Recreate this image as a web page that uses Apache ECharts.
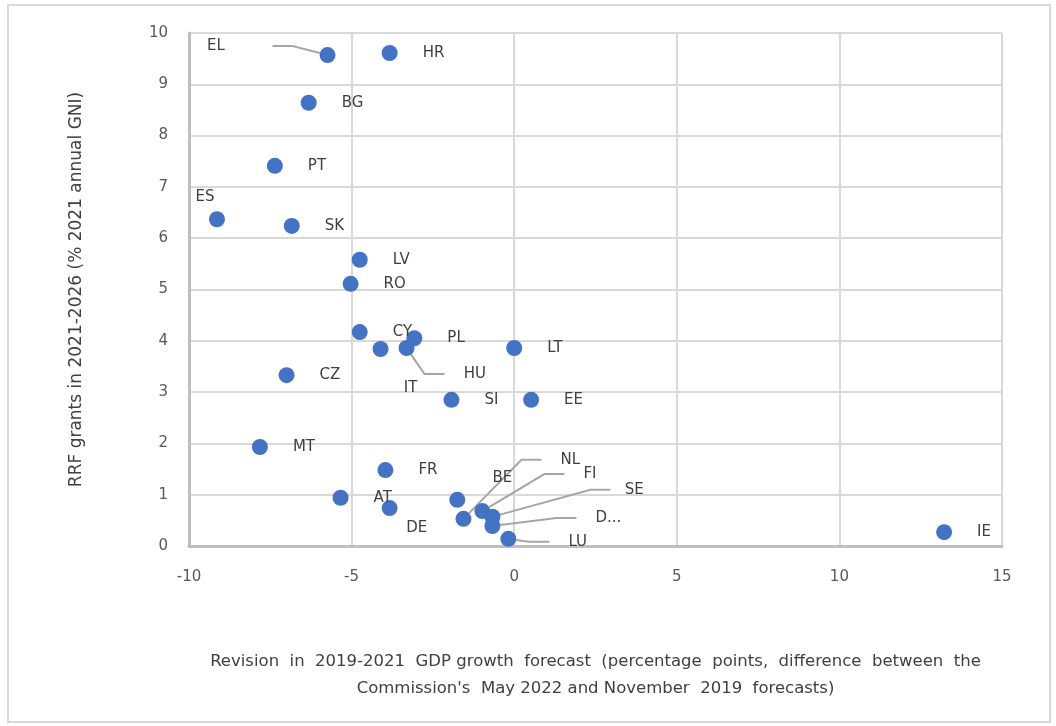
<!DOCTYPE html>
<html>
<head>
<meta charset="utf-8">
<script src="https://cdn.jsdelivr.net/npm/echarts@6/dist/echarts.min.js"></script>
<style>
  html, body { margin: 0; padding: 0; background: #fff; }
  #chart { width: 1056px; height: 726px; }
</style>
</head>
<body>
<div id="chart"></div>
<script>
// country codes as shown on the chart
const countries = ['EL', 'HR', 'BG', 'PT', 'ES', 'SK', 'LV', 'RO', 'CY', 'IT', 'HU', 'PL', 'LT',
  'CZ', 'SI', 'EE', 'MT', 'FR', 'AT', 'DE', 'BE', 'NL', 'FI', 'SE', 'D...', 'LU', 'IE']
// revision in 2019-2021 GDP growth forecast (pp)
const gdpRevision = [-5.74, -3.83, -6.32, -7.36, -9.14, -6.84, -4.75, -5.03, -4.75, -4.11, -3.31, -3.07, 0.0,
  -7.0, -1.93, 0.52, -7.82, -3.96, -5.34, -3.83, -1.75, -1.56, -0.98, -0.67, -0.67, -0.18, 13.22]
// RRF grants 2021-2026 (% 2021 annual GNI)
const rrfGrants = [9.57, 9.61, 8.64, 7.41, 6.37, 6.24, 5.58, 5.11, 4.17, 3.84, 3.86, 4.05, 3.86,
  3.33, 2.85, 2.85, 1.93, 1.48, 0.94, 0.74, 0.90, 0.53, 0.68, 0.57, 0.39, 0.14, 0.27]

const xTicks = { min: -10, max: 15, interval: 5 }
const yTicks = { min: 0, max: 10, interval: 1 }

// labels that Excel moved away from their point (pixel offsets; gap = spaces before the leader line)
const movedLabels = {
  'EL': { dx: -55, dy: -9, align: 'right', gap: 10 },
  'ES': { dx: -12, dy: -22, align: 'center' },
  'IT': { dx: 30, dy: 39, align: 'center' },
  'HU': { dx: 38, dy: 26, align: 'left', gap: 4 },
  'DE': { dx: 27, dy: 20, align: 'center' },
  'BE': { dx: 45, dy: -22, align: 'center' },
  'NL': { dx: 78, dy: -59, align: 'left', gap: 4 },
  'FI': { dx: 82, dy: -37, align: 'left', gap: 4 },
  'SE': { dx: 118, dy: -27, align: 'left', gap: 3 },
  'D...': { dx: 84, dy: -8, align: 'left', gap: 4 },
  'LU': { dx: 41, dy: 3, align: 'left', gap: 4 },
}

const points = countries.map((c, i) => {
  const item = { name: c, value: [gdpRevision[i], rrfGrants[i]] }
  const m = movedLabels[c]
  if (m && m.gap) {
    const sp = ' '.repeat(m.gap)
    item.label = { formatter: m.align === 'right' ? c + sp : sp + c }
    item.labelLine = { show: true }
  }
  return item
})

const chart = echarts.init(document.getElementById('chart'))
chart.setOption({
  animation: false,
  textStyle: { fontFamily: 'DejaVu Sans' },
  graphic: [{
    type: 'rect',
    shape: { x: 8, y: 5, width: 1042, height: 717 },
    style: { fill: 'none', stroke: '#d9d9d9', lineWidth: 2 },
  }],
  grid: { left: 189, right: 54, top: 33, bottom: 180 },
  xAxis: {
    type: 'value',
    min: xTicks.min,
    max: xTicks.max,
    interval: xTicks.interval,
    name: 'Revision  in  2019-2021  GDP growth  forecast  (percentage  points,  difference  between  the\nCommission\'s  May 2022 and November  2019  forecasts)',
    nameLocation: 'middle',
    nameGap: 102,
    nameTextStyle: { fontSize: 16.5, color: '#404040', lineHeight: 27 },
    axisLine: { show: true, onZero: false, lineStyle: { color: '#bfbfbf', width: 3 } },
    axisTick: { show: false },
    axisLabel: { fontSize: 15, color: '#595959', margin: 24 },
    splitLine: { show: true, lineStyle: { color: '#d9d9d9', width: 2 } },
  },
  yAxis: {
    type: 'value',
    min: yTicks.min,
    max: yTicks.max,
    interval: yTicks.interval,
    name: 'RRF grants in 2021-2026 (% 2021 annual GNI)',
    nameLocation: 'middle',
    nameGap: 104,
    nameTextStyle: { fontSize: 17, color: '#404040' },
    axisLine: { show: true, onZero: false, lineStyle: { color: '#bfbfbf', width: 3 } },
    axisTick: { show: false },
    axisLabel: { fontSize: 15, color: '#595959', margin: 21 },
    splitLine: { show: true, lineStyle: { color: '#d9d9d9', width: 2 } },
  },
  series: [{
    type: 'scatter',
    symbolSize: 16,
    itemStyle: { color: '#4472c4', opacity: 1 },
    data: points,
    label: {
      show: true,
      position: 'right',
      distance: 25,
      formatter: '{b}',
      fontSize: 15,
      color: '#404040',
    },
    labelLine: {
      show: false,
      length2: 20,
      lineStyle: { color: '#a6a6a6', width: 2 },
    },
    labelLayout: function (params) {
      const m = movedLabels[countries[params.dataIndex]]
      if (!m) return {}
      const cx = params.rect.x + params.rect.width / 2
      const cy = params.rect.y + params.rect.height / 2
      return { x: cx + m.dx, y: cy + m.dy, align: m.align, verticalAlign: 'middle' }
    },
  }],
})
</script>
</body>
</html>
